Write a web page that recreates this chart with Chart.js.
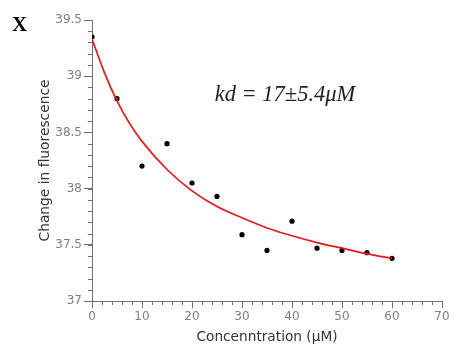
<!DOCTYPE html>
<html>
<head>
<meta charset="utf-8">
<script src="https://cdn.jsdelivr.net/npm/chart.js@4"></script>
<style>
  html, body { margin: 0; padding: 0; background: #fff; }
  #caja { width: 454px; height: 346px; }
</style>
</head>
<body>
<div id="caja"><canvas id="grafico" width="454" height="346"></canvas></div>
<script>
// Datos medidos (puntos negros)
const concentracion = [0, 5, 10, 15, 20, 25, 30, 35, 40, 45, 50, 55, 60];
const fluorescencia = [39.35, 38.80, 38.20, 38.40, 38.05, 37.93, 37.59, 37.45, 37.71, 37.47, 37.45, 37.43, 37.38];

// Curva de ajuste (línea roja)
const ajusteX = [0, 2.5, 5, 7.5, 10, 15, 20, 25, 30, 35, 40, 45, 50, 55, 60];
const ajusteY = [39.33, 39.03, 38.78, 38.58, 38.42, 38.17, 37.98, 37.84, 37.74, 37.65, 37.58, 37.52, 37.47, 37.42, 37.38];

// Ejes
const ejeX = { min: 0, max: 70, paso: 10, pasoMenor: 2 };
const ejeY = { min: 37, max: 39.5, paso: 0.5, pasoMenor: 0.1 };

const etiquetaPanel = "X";
const textoKd = "kd = 17±5.4μM";

const grisEje = '#707070';
const grisTexto = '#808080';

// Dibuja las marcas menores de los ejes y los textos sueltos
const marcasMenores = {
    id: 'marcasMenores',
    afterDraw(chart) {
        const ctx = chart.ctx;
        const sx = chart.scales.x, sy = chart.scales.y;
        ctx.save();
        ctx.strokeStyle = grisEje;
        ctx.lineWidth = 1;
        ctx.beginPath();
        for (let v = ejeX.min; v <= ejeX.max + 1e-9; v += ejeX.pasoMenor) {
            const px = Math.round(sx.getPixelForValue(v)) + 0.5;
            ctx.moveTo(px, sy.bottom);
            ctx.lineTo(px, sy.bottom + 4);
        }
        for (let v = ejeY.min; v <= ejeY.max + 1e-9; v += ejeY.pasoMenor) {
            const py = Math.round(sy.getPixelForValue(v)) + 0.5;
            ctx.moveTo(sx.left, py);
            ctx.lineTo(sx.left - 4, py);
        }
        ctx.stroke();

        // letra del panel
        ctx.fillStyle = '#000';
        ctx.font = 'bold 21px "Liberation Serif", "DejaVu Serif", serif';
        ctx.textAlign = 'left';
        ctx.textBaseline = 'alphabetic';
        ctx.fillText(etiquetaPanel, 12, 31);

        // texto kd
        ctx.font = 'italic 22.5px "Liberation Serif", "DejaVu Serif", serif';
        ctx.fillStyle = '#222';
        ctx.textAlign = 'center';
        ctx.fillText(textoKd, 285, 101);
        ctx.restore();
    }
};

const ctx = document.getElementById('grafico').getContext('2d');

new Chart(ctx, {
    type: 'scatter',
    data: {
        datasets: [
            {
                label: 'ajuste',
                data: ajusteX.map((x, i) => ({ x: x, y: ajusteY[i] })),
                showLine: true,
                borderColor: '#e8191c',
                borderWidth: 1.7,
                pointRadius: 0,
                cubicInterpolationMode: 'monotone',
                fill: false
            },
            {
                label: 'datos',
                data: concentracion.map((x, i) => ({ x: x, y: fluorescencia[i] })),
                backgroundColor: '#000',
                borderColor: '#000',
                pointRadius: 2.6,
                pointBorderWidth: 0
            }
        ]
    },
    options: {
        responsive: false,
        animation: false,
        layout: { padding: { left: 37, top: 20, right: 12, bottom: 0 } },
        plugins: {
            legend: { display: false },
            tooltip: { enabled: false }
        },
        scales: {
            x: {
                type: 'linear',
                min: ejeX.min,
                max: ejeX.max,
                afterFit: (s) => { s.height = 45; },
                border: { color: grisEje, width: 1 },
                grid: { drawOnChartArea: false, color: grisEje, tickLength: 7 },
                ticks: {
                    stepSize: ejeX.paso,
                    color: grisTexto,
                    padding: 2,
                    maxRotation: 0,
                    font: { family: '"DejaVu Sans", Verdana, sans-serif', size: 12 }
                },
                title: {
                    display: true,
                    text: 'Concenntration (μM)',
                    color: '#333',
                    padding: { top: 0, bottom: 0 },
                    font: { family: '"DejaVu Sans", Verdana, sans-serif', size: 13.7 }
                }
            },
            y: {
                type: 'linear',
                min: ejeY.min,
                max: ejeY.max,
                afterFit: (s) => { s.width = 55; },
                border: { color: grisEje, width: 1 },
                grid: { drawOnChartArea: false, color: grisEje, tickLength: 8 },
                ticks: {
                    stepSize: ejeY.paso,
                    color: grisTexto,
                    padding: 2,
                    callback: (v) => String(Math.round(v * 10) / 10),
                    font: { family: '"DejaVu Sans", Verdana, sans-serif', size: 12 }
                },
                title: {
                    display: true,
                    text: 'Change in fluorescence',
                    color: '#333',
                    padding: { top: 0, bottom: 0 },
                    font: { family: '"DejaVu Sans", Verdana, sans-serif', size: 13.8 }
                }
            }
        }
    },
    plugins: [marcasMenores]
});
</script>
</body>
</html>
